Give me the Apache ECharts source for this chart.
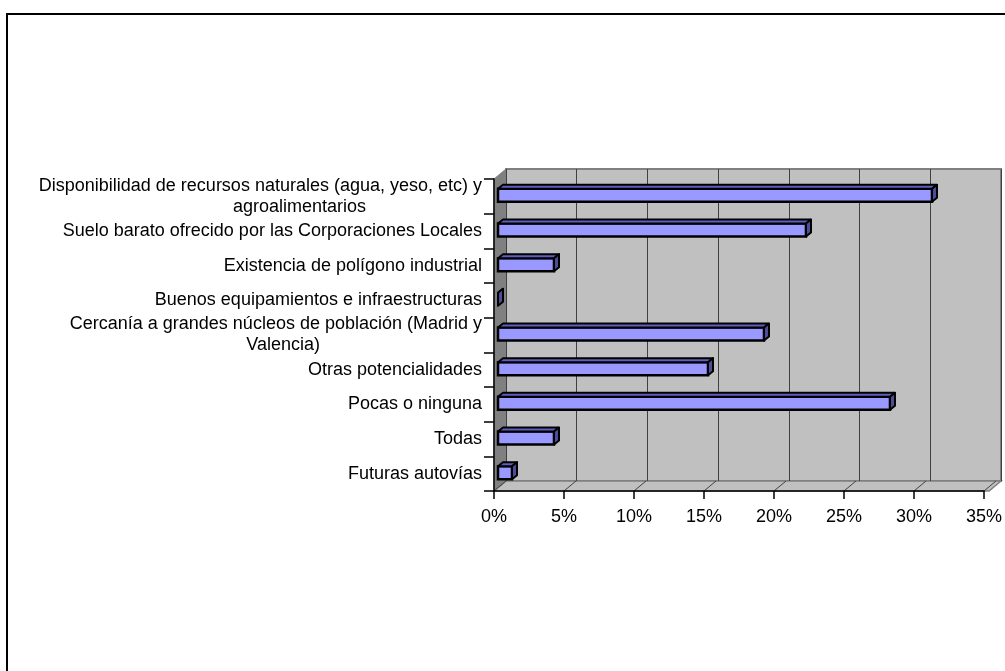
<!DOCTYPE html>
<html>
<head>
<meta charset="utf-8">
<script src="https://cdn.jsdelivr.net/npm/echarts@6/dist/echarts.min.js"></script>
<style>
  html, body { margin: 0; padding: 0; background: #fff; }
  #chart { width: 1005px; height: 671px; }
</style>
</head>
<body>
<div id="chart"></div>
<script>
// categories, top to bottom
const categories = [
  'Disponibilidad de recursos naturales (agua, yeso, etc) y\nagroalimentarios',
  'Suelo barato ofrecido por las Corporaciones Locales',
  'Existencia de polígono industrial',
  'Buenos equipamientos e infraestructuras',
  'Cercanía a grandes núcleos de población (Madrid y\nValencia)',
  'Otras potencialidades',
  'Pocas o ninguna',
  'Todas',
  'Futuras autovías'
];
const values = [31, 22, 4, 0, 19, 15, 28, 4, 1];
const xMin = 0;
const xMax = 35;
const xStep = 5;

// front plane and back wall of the 3D box
const front = { left: 494, top: 179, width: 495, height: 312 };
const depthX = 12, depthY = 10;

const chart = echarts.init(document.getElementById('chart'));

const fontFamily = '"Liberation Sans", Arial, sans-serif';

// 3D bar: front face + top face + right side face
function renderBar(params, api) {
  const idx = api.value(1);
  const start = api.coord([0, idx]);
  const end = api.coord([api.value(0), idx]);
  const h = 13, dx = 5, dy = 4, ox = 4, oy = -1;
  const x0 = start[0] + ox, x1 = end[0] + ox;
  const yT = start[1] + oy - h / 2, yB = yT + h;
  const children = [];
  if (x1 > x0) {
    children.push({
      type: 'rect',
      shape: { x: x0, y: yT, width: x1 - x0, height: h },
      style: { fill: '#9999FF', stroke: '#000', lineWidth: 2.5 }
    });
  }
  children.push({
    type: 'polygon',
    shape: { points: [[x0, yT], [x1, yT], [x1 + dx, yT - dy], [x0 + dx, yT - dy]] },
    style: { fill: '#5F5FBF', stroke: '#000', lineWidth: 2, lineJoin: 'round' }
  });
  children.push({
    type: 'polygon',
    shape: { points: [[x1, yT], [x1 + dx, yT - dy], [x1 + dx, yB - dy], [x1, yB]] },
    style: { fill: '#4D4D99', stroke: '#000', lineWidth: 2, lineJoin: 'round' }
  });
  return { type: 'group', children: children };
}

const fL = front.left, fT = front.top, fR = front.left + front.width, fB = front.top + front.height;

const option = {
  animation: false,
  backgroundColor: '#fff',
  grid: [
    { left: fL, top: fT, width: front.width, height: front.height },
    { left: fL + depthX, top: fT - depthY, width: front.width, height: front.height }
  ],
  xAxis: [
    {
      type: 'value',
      gridIndex: 0,
      min: xMin,
      max: xMax,
      interval: xStep,
      axisLine: { show: true, lineStyle: { color: '#000', width: 1.5 } },
      axisTick: { show: true, length: 8, lineStyle: { color: '#000', width: 1.5 } },
      axisLabel: {
        color: '#000', fontSize: 18, fontFamily: fontFamily, margin: 17,
        formatter: v => v + '%'
      },
      splitLine: { show: false }
    },
    {
      type: 'value',
      gridIndex: 1,
      min: xMin,
      max: xMax,
      interval: xStep,
      axisLine: { show: false },
      axisTick: { show: false },
      axisLabel: { show: false },
      splitLine: { show: true, lineStyle: { color: '#404040', width: 1 } }
    }
  ],
  yAxis: [
    {
      type: 'category',
      gridIndex: 0,
      inverse: true,
      data: categories,
      axisLine: { show: true, lineStyle: { color: '#000', width: 1.5 } },
      axisTick: { show: true, length: 10, interval: 0, lineStyle: { color: '#000', width: 1.5 } },
      axisLabel: {
        interval: 0,
        margin: 12,
        color: '#000',
        fontSize: 18,
        fontFamily: fontFamily,
        lineHeight: 21,
        formatter: function (v, i) {
          if (v.indexOf('\n') < 0) return v;
          const lines = v.split('\n');
          // second line sits a bit right of centre, as in the original
          return lines[0] + '\n{' + (i === 0 ? 'a' : 'b') + '|' + lines[1] + '}';
        },
        rich: {
          a: { align: 'right', padding: [0, 116, 0, 0], fontSize: 18, lineHeight: 21, fontFamily: fontFamily, color: '#000' },
          b: { align: 'right', padding: [0, 162, 0, 0], fontSize: 18, lineHeight: 21, fontFamily: fontFamily, color: '#000' }
        }
      }
    },
    {
      type: 'category',
      gridIndex: 1,
      inverse: true,
      data: categories,
      show: false
    }
  ],
  graphic: [
    // back wall
    {
      type: 'rect', z: -10,
      shape: { x: fL + depthX, y: fT - depthY, width: front.width, height: front.height },
      style: { fill: '#C0C0C0', stroke: '#808080', lineWidth: 2 }
    },
    // left side wall
    {
      type: 'polygon', z: -9,
      shape: { points: [[fL, fT], [fL + depthX, fT - depthY], [fL + depthX, fB - depthY], [fL, fB]] },
      style: { fill: '#808080', stroke: '#808080', lineWidth: 1 }
    },
    // floor
    {
      type: 'polygon', z: -9,
      shape: { points: [[fL, fB], [fL + depthX, fB - depthY], [fR + depthX, fB - depthY], [fR, fB]] },
      style: { fill: '#C0C0C0', stroke: '#808080', lineWidth: 1.5 }
    },
    // outer chart border
    {
      type: 'rect', z: 10,
      shape: { x: 7, y: 14, width: 1200, height: 900 },
      style: { fill: 'none', stroke: '#000', lineWidth: 2 }
    }
  ],
  series: [
    {
      type: 'custom',
      xAxisIndex: 0,
      yAxisIndex: 0,
      renderItem: renderBar,
      encode: { x: 0, y: 1 },
      data: values.map((v, i) => [v, i]),
      z: 5
    }
  ]
};

chart.setOption(option);

// slanted floor gridlines from each front tick to the back wall
const floorLines = [];
for (let v = xMin; v <= xMax; v += xStep) {
  const px = chart.convertToPixel({ xAxisIndex: 0 }, v);
  floorLines.push({
    type: 'line', z: -8,
    shape: { x1: px, y1: fB, x2: px + depthX, y2: fB - depthY },
    style: { stroke: '#404040', lineWidth: 1 }
  });
}
chart.setOption({ graphic: option.graphic.concat(floorLines) });
</script>
</body>
</html>
